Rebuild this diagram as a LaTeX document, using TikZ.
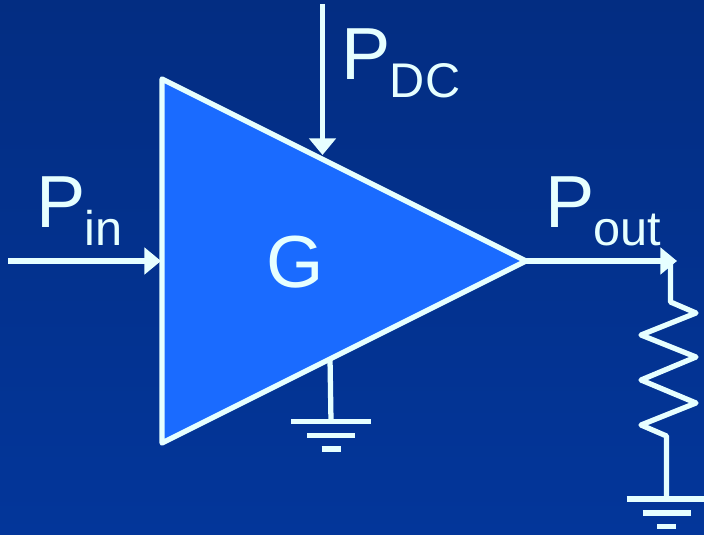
\documentclass[tikz,border=0pt]{standalone}
\usepackage{fontspec}
\setmainfont{Liberation Sans}
\usetikzlibrary{arrows.meta, calc}
\definecolor{bgtop}{HTML}{032D82}
\definecolor{bgbot}{HTML}{03369A}
\definecolor{ampblue}{HTML}{1A6BFF}
\definecolor{wireink}{HTML}{E6FFFF}
% one power label: big P, then the lowered index
\newcommand{\powerlabel}[1]{P\kern-0.4pt\raisebox{-10.2pt}{\fontsize{27.7}{30}\selectfont #1}}
\begin{document}
\begin{tikzpicture}[
		x=0.02cm, y=-0.02cm,
		wire/.style={draw=wireink, line width=3pt},
		arr/.style={wire, -{Triangle[width=15pt, length=9.5pt]}},
		bar/.style={wire, line width=3pt},
		biglabel/.style={anchor=base west, text=wireink, inner sep=0pt,
			font=\fontsize{42}{44}\selectfont},
		pics/earth/.style={code={
			\draw[bar] (-40,0) -- (40,0);
			\draw[bar] (-24,14) -- (24,14);
			\draw[bar] (-9.5,27.5) -- (9.5,27.5);
		}},
	]
		% Background
		\shade[top color=bgtop, bottom color=bgbot] (0,0) rectangle (704,534.9);
		\useasboundingbox (0,0) rectangle (704,534.9);

		% Amplifier corners
		\coordinate (ampin) at (162,79);
		\coordinate (ampout) at (526,261);
		\coordinate (ampbot) at (162,443);
		\fill[ampblue] (ampin) -- (ampout) -- (ampbot) -- cycle;
		\draw[wire, line join=round] (ampin) -- (ampout) -- (ampbot) -- cycle;
		\node[biglabel] (gain) at (266,288) {G};

		% Input
		\coordinate (srcin) at (8,261);
		\coordinate (portin) at (161,261);
		\draw[arr] (srcin) -- (portin);
		\node[biglabel] (pin) at (36,228) {\powerlabel{in}};

		% DC supply
		\coordinate (srcdc) at (322.5,4);
		\coordinate (portdc) at (322.5,155);
		\draw[arr] (srcdc) -- (portdc);
		\node[biglabel] (pdc) at (341,80) {\powerlabel{DC}};

		% Output
		\coordinate (portout) at (677,261);
		\draw[arr] (ampout) -- (portout);
		\node[biglabel] (pout) at (545,228) {\powerlabel{out}};

		% Amplifier ground
		\coordinate (ampstem) at (330,358);
		\coordinate (ampgnd) at (331,421.5);
		\draw[wire] (ampstem) -- (ampgnd);
		\pic at (ampgnd) {earth};

		% Load resistor
		\coordinate (loadtop) at (670.5,261);
		\coordinate (loadgnd) at (666.5,499);
		\draw[wire, line join=round] (loadtop) -- (670.5,302) -- (696,313) -- (641,335)
			-- (696,357) -- (641,380) -- (696,403) -- (641,425) -- (666.5,436) -- (loadgnd);
		\pic at (loadgnd) {earth};
	\end{tikzpicture}
\end{document}
